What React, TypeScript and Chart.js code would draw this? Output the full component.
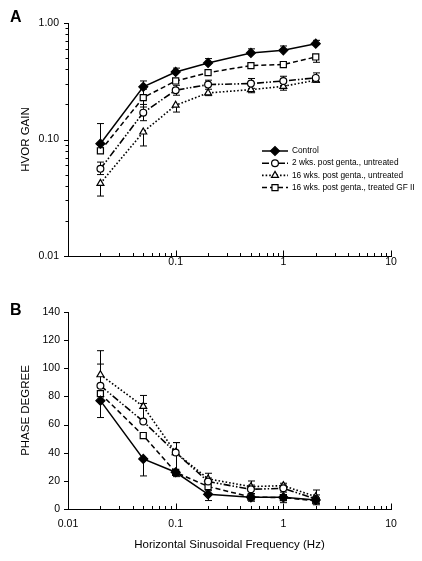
import React, { useEffect, useRef } from 'react';
import { Chart, registerables } from 'chart.js';
import { drawPoint } from 'chart.js/helpers';

Chart.register(...registerables);

const FONT = '"Liberation Sans", Arial, Helvetica, sans-serif';

// ---------- data ----------
const frequencies = [0.02, 0.05, 0.1, 0.2, 0.5, 1, 2];

const seriesNames = [
  'Control',
  '2 wks. post genta., untreated',
  '16 wks. post genta., untreated',
  '16 wks. post genta., treated GF II',
];

// Panel A: HVOR gain
const gainControl = [0.092, 0.283, 0.38, 0.454, 0.553, 0.583, 0.665];
const gainControlHi = [0.137, 0.318, 0.41, 0.495, 0.6, 0.635, 0.71];
const gainControlLo = [0.092, 0.283, 0.38, 0.454, 0.553, 0.583, 0.665];

const gain2wk = [0.056, 0.17, 0.265, 0.296, 0.302, 0.318, 0.338];
const gain2wkHi = [0.064, 0.2, 0.292, 0.323, 0.334, 0.349, 0.373];
const gain2wkLo = [0.05, 0.145, 0.24, 0.27, 0.275, 0.29, 0.31];

const gain16wk = [0.042, 0.116, 0.197, 0.251, 0.268, 0.286, 0.323];
const gain16wkHi = [0.042, 0.116, 0.197, 0.251, 0.268, 0.286, 0.323];
const gain16wkLo = [0.0327, 0.088, 0.172, 0.238, 0.252, 0.265, 0.31];

const gainTreated = [0.08, 0.229, 0.318, 0.375, 0.431, 0.44, 0.511];
const gainTreatedHi = [0.08, 0.27, 0.318, 0.375, 0.431, 0.44, 0.511];
const gainTreatedLo = [0.08, 0.19, 0.318, 0.375, 0.431, 0.44, 0.46];

// Panel B: phase
const phaseControl = [77, 35.6, 26.1, 10.4, 8.3, 8.3, 6.4];
const phaseControlHi = [77, 35.6, 26.1, 10.4, 8.3, 8.3, 6.4];
const phaseControlLo = [65, 23.5, 23, 6, 5.5, 6, 5];

const phase2wk = [87.6, 62.2, 40.1, 19.5, 14, 14.7, 7.1];
const phase2wkHi = [103, 75, 47.2, 22, 17, 17, 10];
const phase2wkLo = [87.6, 62.2, 26.5, 17, 11, 12, 4];

const phase16wk = [95.4, 72.9, 40.1, 21.4, 15.9, 16.6, 8.8];
const phase16wkHi = [112.5, 80.7, 47.2, 25.4, 19.9, 18.3, 13.5];
const phase16wkLo = [95.4, 72.9, 40.1, 21.4, 15.9, 16.6, 8.8];

const phaseTreated = [82, 52.2, 26.1, 16, 8.5, 8.1, 5.9];
const phaseTreatedHi = [82, 52.2, 26.1, 16, 8.5, 8.1, 5.9];
const phaseTreatedLo = [82, 52.2, 26.1, 13, 7, 4.5, 3];

// ticks
const freqDecades = [0.01, 0.1, 1, 10];
const freqLabelsTop = ['', '0.1', '1', '10'];
const freqLabelsBottom = ['0.01', '0.1', '1', '10'];
const gainDecades = [0.01, 0.1, 1];
const gainLabels = ['0.01', '0.10', '1.00'];
const phaseTicks = [0, 20, 40, 60, 80, 100, 120, 140];

// ---------- helpers ----------
function logTicks(decades: number[]) {
  const out: { v: number; major: boolean }[] = [];
  for (let d = 0; d < decades.length; d++) {
    out.push({ v: decades[d], major: true });
    if (d < decades.length - 1) {
      for (let k = 2; k <= 9; k++) out.push({ v: decades[d] * k, major: false });
    }
  }
  return out;
}

function labelFor(decades: number[], labels: string[]) {
  return (value: number | string) => {
    const v = Number(value);
    const i = decades.findIndex((m) => Math.abs(Math.log10(m) - Math.log10(v)) < 1e-6);
    return i >= 0 ? labels[i] : '';
  };
}

const styles = [
  { pointStyle: 'rectRot', radius: 4.5, bg: '#000', dash: [] as number[], width: 1.5 },
  { pointStyle: 'circle', radius: 3.4, bg: '#fff', dash: [7, 2, 1.5, 2, 1.5, 2], width: 1.6 },
  { pointStyle: 'triangle', radius: 4, bg: '#fff', dash: [1.6, 2], width: 1.6 },
  { pointStyle: 'rect', radius: 4.3, bg: '#fff', dash: [5, 3], width: 1.5 },
];

function makeDatasets(values: number[][], hi: number[][], lo: number[][]) {
  return values.map((vals, s) => ({
    label: seriesNames[s],
    data: vals.map((y, j) => ({ x: frequencies[j], y })),
    errHi: hi[s],
    errLo: lo[s],
    borderColor: '#000',
    borderWidth: styles[s].width,
    borderDash: styles[s].dash,
    pointStyle: styles[s].pointStyle,
    pointRadius: styles[s].radius,
    pointBackgroundColor: styles[s].bg,
    pointBorderColor: '#000',
    pointBorderWidth: 1.2,
    fill: false,
    tension: 0,
  }));
}

// ---------- plugins ----------
const errorBarPlugin = {
  id: 'errorBars',
  beforeDatasetsDraw(chart: any) {
    const ctx = chart.ctx;
    const xs = chart.scales.x;
    const ys = chart.scales.y;
    ctx.save();
    ctx.strokeStyle = '#000';
    ctx.lineWidth = 1;
    ctx.setLineDash([]);
    chart.data.datasets.forEach((ds: any) => {
      ds.data.forEach((p: any, j: number) => {
        const x = Math.round(xs.getPixelForValue(p.x)) + 0.5;
        const yv = ys.getPixelForValue(p.y);
        const yh = ys.getPixelForValue(ds.errHi[j]);
        const yl = ys.getPixelForValue(ds.errLo[j]);
        const cap = 3.5;
        ctx.beginPath();
        if (Math.abs(yh - yv) > 0.5) {
          ctx.moveTo(x, yv);
          ctx.lineTo(x, yh);
          ctx.moveTo(x - cap, yh);
          ctx.lineTo(x + cap, yh);
        }
        if (Math.abs(yl - yv) > 0.5) {
          ctx.moveTo(x, yv);
          ctx.lineTo(x, yl);
          ctx.moveTo(x - cap, yl);
          ctx.lineTo(x + cap, yl);
        }
        ctx.stroke();
      });
    });
    ctx.restore();
  },
};

const tickMarksPlugin = {
  id: 'tickMarks',
  afterDraw(chart: any, _args: any, opts: any) {
    if (!opts || !opts.x) return;
    const ctx = chart.ctx;
    const xs = chart.scales.x;
    const ys = chart.scales.y;
    const area = chart.chartArea;
    ctx.save();
    ctx.strokeStyle = '#000';
    ctx.lineWidth = 1;
    ctx.beginPath();
    const yb = Math.round(area.bottom) + 0.5;
    opts.x.forEach((t: any) => {
      const px = Math.round(xs.getPixelForValue(t.v)) + 0.5;
      const len = t.major ? 6 : 3.5;
      ctx.moveTo(px, yb);
      ctx.lineTo(px, yb - len);
    });
    const xl = Math.round(area.left) + 0.5;
    opts.y.forEach((t: any) => {
      const py = Math.round(ys.getPixelForValue(t.v)) + 0.5;
      const len = t.major ? 4.5 : 3;
      ctx.moveTo(xl, py);
      ctx.lineTo(xl - len, py);
    });
    ctx.stroke();
    ctx.restore();
  },
};

const customLegendPlugin = {
  id: 'customLegend',
  afterDraw(chart: any, _args: any, opts: any) {
    if (!opts || !opts.show) return;
    const ctx = chart.ctx;
    chart.data.datasets.forEach((ds: any, i: number) => {
      const y = opts.y0 + i * opts.dy;
      ctx.save();
      ctx.strokeStyle = '#000';
      ctx.lineWidth = ds.borderWidth;
      ctx.setLineDash(ds.borderDash || []);
      ctx.beginPath();
      ctx.moveTo(opts.x0, y);
      ctx.lineTo(opts.x1, y);
      ctx.stroke();
      ctx.setLineDash([]);
      ctx.fillStyle = ds.pointBackgroundColor;
      ctx.strokeStyle = '#000';
      ctx.lineWidth = ds.pointBorderWidth;
      drawPoint(ctx, { pointStyle: ds.pointStyle, radius: ds.pointRadius, rotation: 0, borderWidth: ds.pointBorderWidth } as any, (opts.x0 + opts.x1) / 2, y);
      ctx.fillStyle = '#000';
      ctx.font = `${opts.fontSize}px ${FONT}`;
      ctx.textBaseline = 'middle';
      ctx.textAlign = 'left';
      ctx.fillText(ds.label, opts.textX, y);
      ctx.restore();
    });
  },
};

const panelLabelPlugin = {
  id: 'panelLabel',
  afterDraw(chart: any, _args: any, opts: any) {
    if (!opts || !opts.text) return;
    const ctx = chart.ctx;
    ctx.save();
    ctx.fillStyle = '#000';
    ctx.font = `bold 16px ${FONT}`;
    ctx.textBaseline = 'alphabetic';
    ctx.textAlign = 'left';
    ctx.fillText(opts.text, opts.x, opts.y);
    ctx.restore();
  },
};

// ---------- configs ----------
const tickFont = { family: FONT, size: 10.5 };
const titleFont = { family: FONT, size: 11.5 };

function topConfig(): any {
  const xTicks = logTicks(freqDecades);
  const yTicks = logTicks(gainDecades);
  return {
    type: 'line',
    data: {
      datasets: makeDatasets(
        [gainControl, gain2wk, gain16wk, gainTreated],
        [gainControlHi, gain2wkHi, gain16wkHi, gainTreatedHi],
        [gainControlLo, gain2wkLo, gain16wkLo, gainTreatedLo]
      ),
    },
    options: {
      animation: false,
      responsive: false,
      maintainAspectRatio: false,
      layout: { padding: { left: 0, right: 31, top: 23, bottom: 0 } },
      plugins: {
        legend: { display: false },
        tooltip: { enabled: false },
        tickMarks: { x: xTicks, y: yTicks },
        customLegend: { show: true, x0: 262, x1: 288, y0: 151, dy: 12.2, textX: 292, fontSize: 8.3 },
        panelLabel: { text: 'A', x: 10, y: 22 },
      },
      scales: {
        x: {
          type: 'logarithmic',
          position: 'bottom',
          min: 0.01,
          max: 10,
          afterBuildTicks: (s: any) => { s.ticks = xTicks.map((t) => ({ value: t.v })); },
          afterFit: (s: any) => { s.height = 24; },
          grid: { display: false, drawTicks: false },
          border: { display: true, color: '#000', width: 1 },
          ticks: { callback: labelFor(freqDecades, freqLabelsTop), font: tickFont, color: '#000', padding: 0, autoSkip: false, maxRotation: 0, minRotation: 0 },
        },
        y: {
          type: 'logarithmic',
          position: 'left',
          min: 0.01,
          max: 1,
          afterBuildTicks: (s: any) => { s.ticks = yTicks.map((t) => ({ value: t.v })); },
          afterFit: (s: any) => { s.width = 68; },
          grid: { display: false, drawTicks: false },
          border: { display: true, color: '#000', width: 1 },
          ticks: { callback: labelFor(gainDecades, gainLabels), font: tickFont, color: '#000', padding: 9, autoSkip: false },
          title: { display: true, text: 'HVOR GAIN', font: titleFont, color: '#000', padding: { top: 19, bottom: 0 } },
        },
      },
    },
    plugins: [errorBarPlugin, tickMarksPlugin, customLegendPlugin, panelLabelPlugin],
  };
}

function bottomConfig(): any {
  const xTicks = logTicks(freqDecades);
  const yTicks = phaseTicks.map((v) => ({ v, major: true }));
  return {
    type: 'line',
    data: {
      datasets: makeDatasets(
        [phaseControl, phase2wk, phase16wk, phaseTreated],
        [phaseControlHi, phase2wkHi, phase16wkHi, phaseTreatedHi],
        [phaseControlLo, phase2wkLo, phase16wkLo, phaseTreatedLo]
      ),
    },
    options: {
      animation: false,
      responsive: false,
      maintainAspectRatio: false,
      layout: { padding: { left: 0, right: 31, top: 32, bottom: 0 } },
      plugins: {
        legend: { display: false },
        tooltip: { enabled: false },
        tickMarks: { x: xTicks, y: yTicks },
        panelLabel: { text: 'B', x: 10, y: 35 },
      },
      scales: {
        x: {
          type: 'logarithmic',
          position: 'bottom',
          min: 0.01,
          max: 10,
          afterBuildTicks: (s: any) => { s.ticks = xTicks.map((t) => ({ value: t.v })); },
          afterFit: (s: any) => { s.height = 52; },
          grid: { display: false, drawTicks: false },
          border: { display: true, color: '#000', width: 1 },
          ticks: { callback: labelFor(freqDecades, freqLabelsBottom), font: tickFont, color: '#000', padding: 9, autoSkip: false, maxRotation: 0, minRotation: 0 },
          title: { display: true, text: 'Horizontal Sinusoidal Frequency (Hz)', font: titleFont, color: '#000', padding: { top: 0, bottom: 9 } },
        },
        y: {
          type: 'linear',
          position: 'left',
          min: 0,
          max: 140,
          afterBuildTicks: (s: any) => { s.ticks = phaseTicks.map((v) => ({ value: v })); },
          afterFit: (s: any) => { s.width = 68; },
          grid: { display: false, drawTicks: false },
          border: { display: true, color: '#000', width: 1 },
          ticks: { font: tickFont, color: '#000', padding: 8, autoSkip: false },
          title: { display: true, text: 'PHASE DEGREE', font: titleFont, color: '#000', padding: { top: 19, bottom: 0 } },
        },
      },
    },
    plugins: [errorBarPlugin, tickMarksPlugin, panelLabelPlugin],
  };
}

function ChartCanvas({ makeConfig, width, height, top }: { makeConfig: () => any; width: number; height: number; top: number }) {
  const ref = useRef<HTMLCanvasElement>(null);
  useEffect(() => {
    const chart = new Chart(ref.current as HTMLCanvasElement, makeConfig());
    return () => chart.destroy();
  }, [makeConfig]);
  return (
    <canvas
      ref={ref}
      width={width}
      height={height}
      style={{ position: 'absolute', left: 0, top, width, height }}
    />
  );
}

export default function App() {
  return (
    <div style={{ position: 'absolute', left: 0, top: 0, width: 422, height: 561, background: '#fff' }}>
      <ChartCanvas makeConfig={topConfig} width={422} height={280} top={0} />
      <ChartCanvas makeConfig={bottomConfig} width={422} height={281} top={280} />
    </div>
  );
}
